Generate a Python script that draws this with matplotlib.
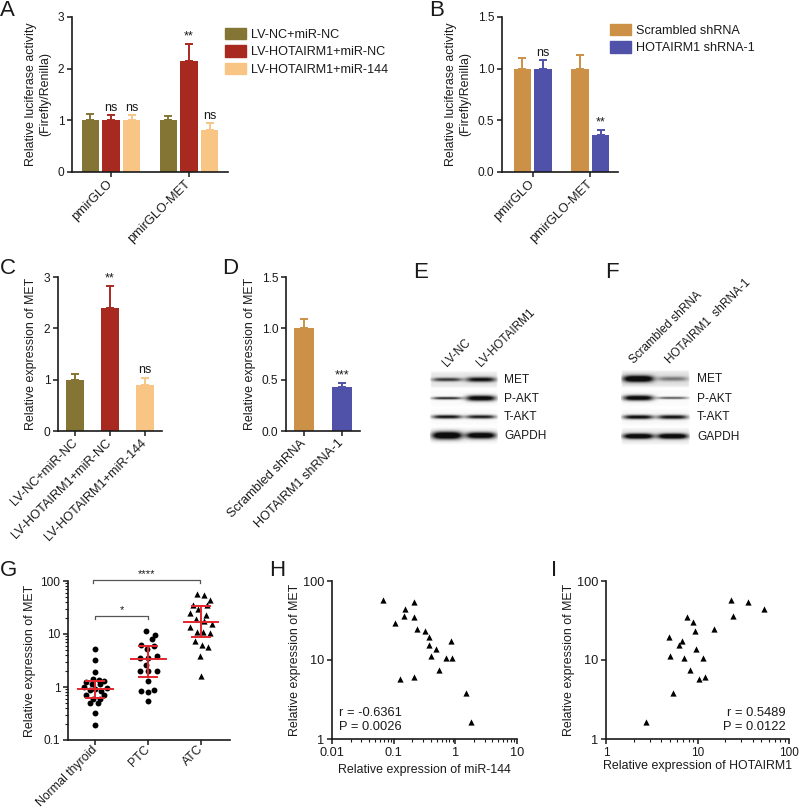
import numpy as np
import matplotlib
matplotlib.use('Agg')
import matplotlib.pyplot as plt
from matplotlib.patches import Patch
from matplotlib.ticker import LogLocator, NullFormatter, FixedLocator, FixedFormatter

# ---------------- data ----------------
# Panel A
a_groups = ['pmirGLO', 'pmirGLO-MET']
a_series = ['LV-NC+miR-NC', 'LV-HOTAIRM1+miR-NC', 'LV-HOTAIRM1+miR-144']
a_means = [[1.0, 1.0], [1.0, 2.15], [1.0, 0.82]]
a_errs = [[0.13, 0.08], [0.10, 0.33], [0.10, 0.12]]
a_sig = [['', ''], ['ns', '**'], ['ns', 'ns']]
a_colors = ['#847534', '#A8291F', '#F8C585']

# Panel B
b_groups = ['pmirGLO', 'pmirGLO-MET']
b_series = ['Scrambled shRNA', 'HOTAIRM1 shRNA-1']
b_means = [[1.0, 1.0], [1.0, 0.36]]
b_errs = [[0.10, 0.13], [0.08, 0.05]]
b_sig = [['', ''], ['ns', '**']]
b_colors = ['#CC9046', '#4F52A8']

# Panel C
c_cats = ['LV-NC+miR-NC', 'LV-HOTAIRM1+miR-NC', 'LV-HOTAIRM1+miR-144']
c_means = [1.0, 2.4, 0.9]
c_errs = [0.12, 0.42, 0.13]
c_sig = ['', '**', 'ns']

# Panel D
d_cats = ['Scrambled shRNA', 'HOTAIRM1 shRNA-1']
d_means = [1.0, 0.43]
d_errs = [0.09, 0.04]
d_sig = ['', '***']

# Panels E / F (western blot band intensities, rows x lanes)
blot_rows = ['MET', 'P-AKT', 'T-AKT', 'GAPDH']
e_lanes = ['LV-NC', 'LV-HOTAIRM1']
e_intensity = [[0.75, 0.95], [0.9, 1.2], [1.0, 0.95], [1.4, 1.3]]
e_thickness = [[0.10, 0.13], [0.07, 0.15], [0.10, 0.10], [0.20, 0.17]]
e_background = [0.10, 0.02, 0.02, 0.05]
f_lanes = ['Scrambled shRNA', 'HOTAIRM1  shRNA-1']
f_intensity = [[1.3, 0.45], [1.2, 0.7], [1.05, 1.0], [1.3, 1.3]]
f_thickness = [[0.17, 0.12], [0.14, 0.06], [0.11, 0.11], [0.14, 0.14]]
f_background = [0.12, 0.02, 0.03, 0.08]

# Panel G
g_cats = ['Normal thyroid', 'PTC', 'ATC']
g_normal = [5.3, 3.3, 1.92, 1.4, 1.35, 1.25, 1.28, 1.15, 1.12, 1.0, 0.97, 0.93,
            0.86, 0.85, 0.72, 0.70, 0.60, 0.60, 0.50, 0.50, 0.33, 0.19]
g_normal_off = [0, 0, 0, -0.05, 0.06, -0.17, 0.17, -0.06, 0.08, -0.22, 0.22, 0.0,
                -0.1, 0.1, -0.17, 0.17, -0.05, 0.08, -0.1, 0.05, 0, 0]
g_ptc = [11.6, 9.4, 8.0, 6.3, 6.0, 5.3, 3.8, 3.6, 3.5, 2.6, 2.0, 2.0, 2.0, 1.28,
         0.89, 0.85, 0.80, 0.55]
g_ptc_off = [-0.05, 0.12, 0.07, -0.13, 0.11, -0.02, 0.17, 0.0, -0.16, -0.05,
             -0.16, 0.0, 0.17, 0.0, 0.11, -0.13, 0.0, 0.0]
g_atc = [57.5, 53.7, 44.7, 36.0, 35.0, 29.7, 24.7, 23.3, 19.6, 17.6, 15.3, 13.6,
         11.1, 10.7, 10.5, 7.5, 6.1, 5.8, 3.8, 1.63]
g_atc_off = [-0.08, 0.05, 0.17, -0.16, 0.12, -0.05, -0.2, 0.1, -0.1, 0.05, 0.2,
             -0.2, -0.08, 0.04, 0.17, -0.12, 0.02, 0.14, -0.02, 0.0]
g_center = [0.93, 3.4, 16.8]
g_low = [0.62, 1.52, 8.6]
g_high = [1.28, 6.0, 34.0]

# Panel H / I
h_mir144 = [0.067, 0.211, 0.153, 0.145, 0.211, 0.106, 0.239, 0.318, 0.374, 0.862,
            0.38, 0.48, 0.407, 0.715, 0.89, 0.55, 0.128, 0.211, 1.51, 1.8]
h_met = [57.5, 53.7, 44.7, 36.0, 35.0, 29.7, 24.7, 23.3, 19.6, 17.6, 15.3, 13.6,
         11.1, 10.5, 10.7, 7.5, 5.8, 6.1, 3.8, 1.63]
i_hotairm1 = [23.2, 35.7, 53.2, 24.4, 7.7, 8.9, 15.3, 9.5, 4.9, 6.7, 6.2, 9.55,
              5.0, 11.5, 7.2, 8.3, 10.5, 12.1, 5.4, 2.75]
i_met = [57.5, 53.7, 44.7, 36.0, 35.0, 30.0, 24.7, 23.3, 19.6, 17.6, 15.3, 13.6,
         11.1, 10.5, 10.7, 7.5, 5.8, 6.1, 3.8, 1.63]

# ---------------- style ----------------
plt.rcParams['font.family'] = ['Liberation Sans', 'DejaVu Sans']
plt.rcParams['text.color'] = '#1a1a1a'
plt.rcParams['axes.labelcolor'] = '#1a1a1a'
plt.rcParams['xtick.color'] = '#1a1a1a'
plt.rcParams['ytick.color'] = '#1a1a1a'
XTICK = 9.2
YTICK = 8.6
LAB = 8.9
LEG = 9.1
SIG = 9.0
LET = 16

W, H = 800, 807
fig = plt.figure(figsize=(8, 8.07), dpi=100)


def add_ax(l, t, r, b):
    return fig.add_axes([l / W, 1 - b / H, (r - l) / W, (b - t) / H])


def style(ax):
    for s in ['top', 'right']:
        ax.spines[s].set_visible(False)
    for s in ['left', 'bottom']:
        ax.spines[s].set_linewidth(1.2)
        ax.spines[s].set_color('#1a1a1a')
    ax.tick_params(direction='out', length=3.5, width=1.1, pad=2)
    ax.tick_params(axis='y', labelsize=YTICK)
    ax.tick_params(axis='x', labelsize=XTICK)


def letter(x, y, s):
    fig.text(x / W, 1 - y / H, s, fontsize=LET, va='top', ha='left')


def bar_err(ax, x, m, e, color, width):
    ax.bar(x, m, width, color=color, zorder=2)
    ax.errorbar(x, m, yerr=[np.zeros_like(np.atleast_1d(e)), e], fmt='none',
                ecolor=color, elinewidth=1.4, capsize=3.2, capthick=1.4, zorder=1)


def rot_xticks(ax, labels, positions, fs=XTICK, pad=4):
    ax.set_xticks(positions)
    ax.set_xticklabels(labels, rotation=45, ha='right', va='center',
                       rotation_mode='anchor', fontsize=fs)
    ax.tick_params(axis='x', pad=pad)


# ---------------- A ----------------
axA = add_ax(72, 17, 228, 172)
style(axA)
xg = np.arange(len(a_groups))
offs = [-0.266, 0.0, 0.266]
for k in range(3):
    xs = xg + offs[k]
    bar_err(axA, xs, a_means[k], a_errs[k], a_colors[k], 0.22)
    for j in range(len(xg)):
        if a_sig[k][j]:
            axA.text(xs[j], a_means[k][j] + a_errs[k][j] + 0.03, a_sig[k][j],
                     ha='center', va='bottom', fontsize=SIG)
axA.set_xlim(-0.5, 1.5)
axA.set_ylim(0, 3)
axA.set_yticks([0, 1, 2, 3])
rot_xticks(axA, a_groups, xg)
axA.set_ylabel('Relative luciferase activity\n(Firefly/Renilla)', fontsize=LAB,
               labelpad=5)
axA.legend([Patch(color=c) for c in a_colors], a_series, loc='upper left',
           bbox_to_anchor=(225 / W, 1 - 28 / H), bbox_transform=fig.transFigure,
           frameon=False, fontsize=LEG, handlelength=1.7, handleheight=1.0,
           handletextpad=0.35, labelspacing=0.35, borderpad=0, borderaxespad=0)
letter(0, 0, 'A')

# ---------------- B ----------------
axB = add_ax(502, 17, 618, 172)
style(axB)
xg = np.arange(len(b_groups))
offs = [-0.18, 0.18]
for k in range(2):
    xs = xg + offs[k]
    bar_err(axB, xs, b_means[k], b_errs[k], b_colors[k], 0.30)
    for j in range(len(xg)):
        if b_sig[k][j]:
            axB.text(xs[j], b_means[k][j] + b_errs[k][j] + 0.015, b_sig[k][j],
                     ha='center', va='bottom', fontsize=SIG)
axB.set_xlim(-0.53, 1.48)
axB.set_ylim(0, 1.5)
axB.set_yticks([0, 0.5, 1.0, 1.5])
axB.set_yticklabels(['0.0', '0.5', '1.0', '1.5'])
rot_xticks(axB, b_groups, xg)
axB.set_ylabel('Relative luciferase activity\n(Firefly/Renilla)', fontsize=LAB,
               labelpad=5)
axB.legend([Patch(color=c) for c in b_colors], b_series, loc='upper left',
           bbox_to_anchor=(610 / W, 1 - 24 / H), bbox_transform=fig.transFigure,
           frameon=False, fontsize=LEG, handlelength=1.7, handleheight=1.0,
           handletextpad=0.35, labelspacing=0.35, borderpad=0, borderaxespad=0)
letter(429, 0, 'B')

# ---------------- C ----------------
axC = add_ax(58, 277, 162, 431)
style(axC)
xc = np.arange(len(c_cats))
for j in range(len(xc)):
    bar_err(axC, [xc[j]], [c_means[j]], [c_errs[j]], a_colors[j], 0.52)
    if c_sig[j]:
        axC.text(xc[j], c_means[j] + c_errs[j] + 0.04, c_sig[j], ha='center',
                 va='bottom', fontsize=SIG)
axC.set_xlim(-0.5, 2.5)
axC.set_ylim(0, 3)
axC.set_yticks([0, 1, 2, 3])
rot_xticks(axC, c_cats, xc)
axC.set_ylabel('Relative expression of MET', fontsize=LAB, labelpad=5)
letter(0, 258, 'C')

# ---------------- D ----------------
axD = add_ax(286, 277, 360, 431)
style(axD)
xd = np.arange(len(d_cats))
for j in range(len(xd)):
    bar_err(axD, [xd[j]], [d_means[j]], [d_errs[j]], b_colors[j], 0.53)
    if d_sig[j]:
        axD.text(xd[j], d_means[j] + d_errs[j] + 0.01, d_sig[j], ha='center',
                 va='bottom', fontsize=SIG)
axD.set_xlim(-0.48, 1.49)
axD.set_ylim(0, 1.5)
axD.set_yticks([0, 0.5, 1.0, 1.5])
axD.set_yticklabels(['0.0', '0.5', '1.0', '1.5'])
rot_xticks(axD, d_cats, xd)
axD.set_ylabel('Relative expression of MET', fontsize=LAB, labelpad=4)
letter(222, 258, 'D')


# ---------------- E / F blots ----------------
def blot(box, lanes, intensity, thickness, background, label_x, lane_label_pos):
    l, t, r, b = box
    ax = add_ax(l, t, r, b)
    nr, nl = len(blot_rows), len(lanes)
    ny, nx = 160, 120
    yy, xx = np.meshgrid(np.linspace(0, nr, ny), np.linspace(0, nl, nx), indexing='ij')
    img = np.zeros((ny, nx))
    for ri in range(nr):
        rowmask = np.exp(-((yy - (ri + 0.5)) / 0.42) ** 8)
        img += background[ri] * rowmask * (np.abs(xx - nl / 2) < nl / 2 * 0.98)
        for li in range(nl):
            hprof = np.exp(-(np.abs(xx - (li + 0.5)) / 0.44) ** 4)
            vprof = np.exp(-((yy - (ri + 0.5)) / thickness[ri][li]) ** 2)
            img += intensity[ri][li] * hprof * vprof
    img = np.clip(img, 0, 1)
    ax.imshow(img, cmap='gray_r', vmin=0, vmax=1.05, extent=(0, nl, nr, 0),
              aspect='auto', interpolation='bilinear')
    ax.set_xlim(0, nl)
    ax.set_ylim(nr, 0)
    ax.axis('off')
    row_h = (b - t) / nr
    for ri, name in enumerate(blot_rows):
        fig.text(label_x / W, 1 - (t + row_h * (ri + 0.5)) / H, name, fontsize=8.6,
                 va='center', ha='left')
    for (px, py), name in zip(lane_label_pos, lanes):
        fig.text(px / W, 1 - py / H, name, fontsize=8.5, rotation=45,
                 rotation_mode='anchor', ha='left', va='baseline')


blot((430, 371, 498, 445), e_lanes, e_intensity, e_thickness, e_background, 504,
     [(447, 367), (481, 367)])
letter(413, 262, 'E')
blot((621, 370, 690, 446), f_lanes, f_intensity, f_thickness, f_background, 697,
     [(634, 364), (670, 364)])
letter(605, 262, 'F')

# ---------------- G ----------------
axG = add_ax(68, 581, 230, 740)
style(axG)
axG.set_yscale('log')
axG.set_ylim(0.1, 100)
axG.set_xlim(-0.52, 2.55)
groups = [(g_normal, g_normal_off, 'o', 18), (g_ptc, g_ptc_off, 'o', 18),
          (g_atc, g_atc_off, '^', 20)]
for gi, (vals, off, mk, sz) in enumerate(groups):
    axG.scatter(gi + np.array(off), vals, marker=mk, s=sz, color='black',
                linewidths=0, zorder=2)
    axG.plot([gi - 0.33, gi + 0.33], [g_center[gi]] * 2, color='#E3262C', lw=1.4, zorder=3)
    axG.plot([gi - 0.17, gi + 0.17], [g_low[gi]] * 2, color='#E3262C', lw=1.4, zorder=3)
    axG.plot([gi - 0.17, gi + 0.17], [g_high[gi]] * 2, color='#E3262C', lw=1.4, zorder=3)
    axG.plot([gi, gi], [g_low[gi], g_high[gi]], color='#E3262C', lw=1.4, zorder=3)
axG.yaxis.set_major_locator(FixedLocator([0.1, 1, 10, 100]))
axG.yaxis.set_major_formatter(FixedFormatter(['0.1', '1', '10', '100']))
axG.yaxis.set_minor_locator(LogLocator(base=10, subs=np.arange(2, 10)))
axG.yaxis.set_minor_formatter(NullFormatter())
axG.tick_params(which='minor', length=2, width=0.8)
rot_xticks(axG, g_cats, [0, 1, 2], fs=8.8, pad=2)
# brackets
bc = '#555555'
axG.plot([-0.04, -0.04, 1.98, 1.98], [92, 106, 106, 92], color=bc, lw=0.9,
         clip_on=False)
axG.text(0.97, 110, '****', ha='center', va='bottom', fontsize=SIG - 1)
axG.plot([0.0, 0.0, 1.0, 1.0], [19.5, 22.3, 22.3, 19.5], color=bc, lw=0.9,
         clip_on=False)
axG.text(0.5, 23.0, '*', ha='center', va='bottom', fontsize=SIG - 1)
axG.set_ylabel('Relative expression of MET', fontsize=LAB, labelpad=3)
letter(0, 560, 'G')


# ---------------- H ----------------
def corr_ax(box, x, y, xlim, xticks, xlabels, xlab, xpad, txt, txt_pos, txt_ha,
            xfs=XTICK):
    ax = add_ax(*box)
    style(ax)
    ax.set_xscale('log')
    ax.set_yscale('log')
    ax.set_xlim(*xlim)
    ax.set_ylim(1, 100)
    ax.scatter(x, y, marker='^', s=20, color='black', linewidths=0, zorder=2)
    ax.xaxis.set_major_locator(FixedLocator(xticks))
    ax.xaxis.set_major_formatter(FixedFormatter(xlabels))
    ax.xaxis.set_minor_locator(LogLocator(base=10, subs=np.arange(2, 10)))
    ax.xaxis.set_minor_formatter(NullFormatter())
    ax.yaxis.set_major_locator(FixedLocator([1, 10, 100]))
    ax.yaxis.set_major_formatter(FixedFormatter(['1', '10', '100']))
    ax.yaxis.set_minor_locator(FixedLocator([]))
    ax.tick_params(which='minor', length=2, width=0.8)
    ax.tick_params(axis='y', labelsize=XTICK)
    ax.tick_params(axis='x', labelsize=xfs)
    ax.set_xlabel(xlab, fontsize=LAB, labelpad=xpad)
    ax.set_ylabel('Relative expression of MET', fontsize=LAB, labelpad=1.5)
    ax.text(txt_pos[0], txt_pos[1], txt, transform=ax.transAxes, fontsize=LAB + 0.4,
            ha=txt_ha, va='bottom', linespacing=1.2)
    return ax


corr_ax((332, 581, 517, 739), h_mir144, h_met, (0.01, 10), [0.01, 0.1, 1, 10],
        ['0.01', '0.1', '1', '10'], 'Relative expression of miR-144', 4,
        'r = -0.6361\nP = 0.0026', (0.04, 0.04), 'left')
letter(269, 560, 'H')
corr_ax((606, 581, 789, 739), i_hotairm1, i_met, (1, 100), [1, 10, 100],
        ['1', '10', '100'], 'Relative expression of HOTAIRM1', 1,
        'r = 0.5489\nP = 0.0122', (0.98, 0.04), 'right', xfs=8.5)
letter(551, 560, 'I')

fig.savefig('out.png', dpi=100)
